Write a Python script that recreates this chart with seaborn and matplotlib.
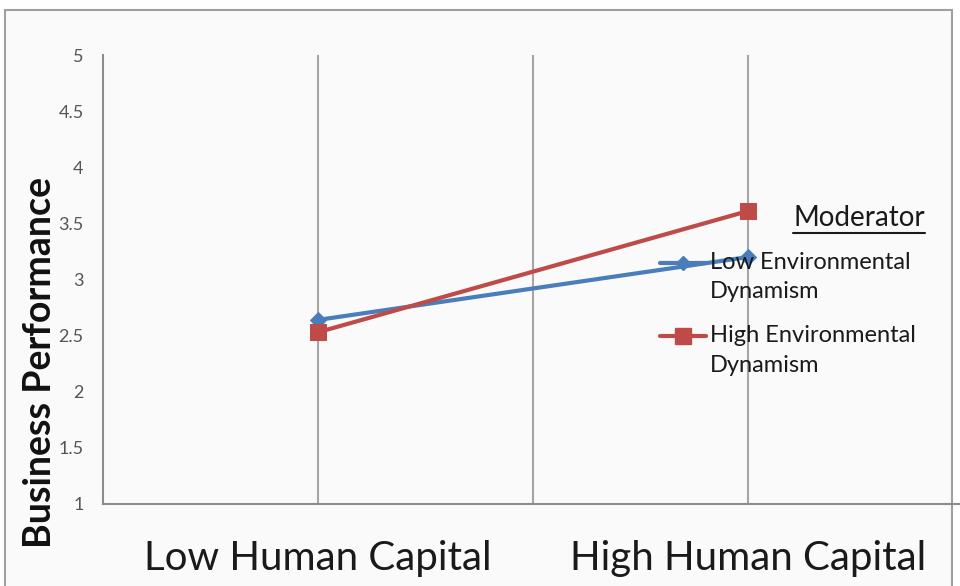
import numpy as np
import pandas as pd
import matplotlib.pyplot as plt
import seaborn as sns
from matplotlib.lines import Line2D
from matplotlib.patches import Rectangle

capital = ['Low Human Capital', 'High Human Capital']
low_dynamism = [2.64, 3.20]
high_dynamism = [2.53, 3.61]
series_names = ['Low Environmental\nDynamism', 'High Environmental\nDynamism']
y_ticks = [1, 1.5, 2, 2.5, 3, 3.5, 4, 4.5, 5]
y_labels = ['1', '1.5', '2', '2.5', '3', '3.5', '4', '4.5', '5']

blue = '#4a7ebb'
red = '#be4b48'
grid_c = '#a6a6a6'
axis_c = '#8c8c8c'

df = pd.DataFrame({
    'capital': capital * 2,
    'perf': low_dynamism + high_dynamism,
    'moderator': [series_names[0]] * 2 + [series_names[1]] * 2,
})

sns.set_style('white')
plt.rcParams['font.family'] = ['Lato', 'DejaVu Sans']

W, H = 960, 586
fig = plt.figure(figsize=(W / 100, H / 100), dpi=100, facecolor='white')

def fx(px):
    return px / W

def fy(py):
    return 1 - py / H

# outer chart frame like an Excel chart area
fig.patches.append(Rectangle((fx(5), -0.02), fx(952) - fx(5), fy(10) + 0.02,
                             transform=fig.transFigure, facecolor='#fafafa',
                             edgecolor='#a0a0a0', linewidth=1.5, zorder=-5))

ax = fig.add_axes([fx(103), fy(504), fx(963) - fx(103), fy(55) - fy(504)])
ax.set_facecolor('none')

# vertical gridlines
for gx in [0, 0.5, 1]:
    ax.axvline(gx, color=grid_c, lw=1.5, zorder=1)

styles = {series_names[0]: (blue, 'D', 8), series_names[1]: (red, 's', 12)}
for name in series_names:
    c, m, ms = styles[name]
    sns.lineplot(data=df[df['moderator'] == name], x='capital', y='perf',
                 color=c, marker=m, markersize=ms, markeredgecolor=c,
                 linewidth=3, ax=ax, sort=False, zorder=3, legend=False)

ax.set_xlim(-0.5, 1.5)
ax.set_ylim(1, 5)
ax.set_xlabel('')
ax.set_ylabel('')
# y title sits lower than the axes centre in the original
fig.text(fx(40), fy(362), 'Business Performance', rotation=90, fontsize=27,
         fontweight='bold', color='#111111', ha='center', va='center')

ax.set_xticks([-0.5, 0.5, 1.5])
ax.set_xticklabels([])
ax.set_xticks([0, 1], minor=True)
ax.set_xticklabels(capital, minor=True, fontsize=29, color='#1a1a1a')
ax.tick_params(axis='x', which='major', direction='out', length=12,
               width=1.5, color=axis_c)
ax.tick_params(axis='x', which='minor', length=0, pad=26)

ax.set_yticks(y_ticks)
ax.set_yticklabels(y_labels, fontsize=13, color='#555555')
ax.tick_params(axis='y', direction='out', length=6, width=1.5, color=axis_c, pad=8)

for s in ['top', 'right']:
    ax.spines[s].set_visible(False)
for s in ['left', 'bottom']:
    ax.spines[s].set_color(axis_c)
    ax.spines[s].set_linewidth(1.5)

# legend, drawn by hand to match the Excel layout
title = fig.text(fx(925), fy(218), 'Moderator', fontsize=20, color='#1a1a1a',
                 ha='right', va='center')
fig.canvas.draw()
bb = title.get_window_extent()
fig.add_artist(Line2D([bb.x0 / W, bb.x1 / W], [fy(233), fy(233)],
                      transform=fig.transFigure, color='#1a1a1a', lw=1.5))

for name, yc in zip(series_names, [263, 336]):
    c, m, ms = styles[name]
    fig.add_artist(Line2D([fx(660), fx(706)], [fy(yc), fy(yc)],
                          transform=fig.transFigure, color=c, lw=3,
                          marker=None))
    fig.add_artist(Line2D([fx(683)], [fy(yc)], transform=fig.transFigure,
                          color=c, marker=m, markersize=ms - 1,
                          markeredgecolor=c, lw=0))
    fig.text(fx(710), fy(yc - 11), name, fontsize=17, color='#1a1a1a',
             ha='left', va='top', linespacing=1.5)

fig.savefig('out.png', dpi=100)
